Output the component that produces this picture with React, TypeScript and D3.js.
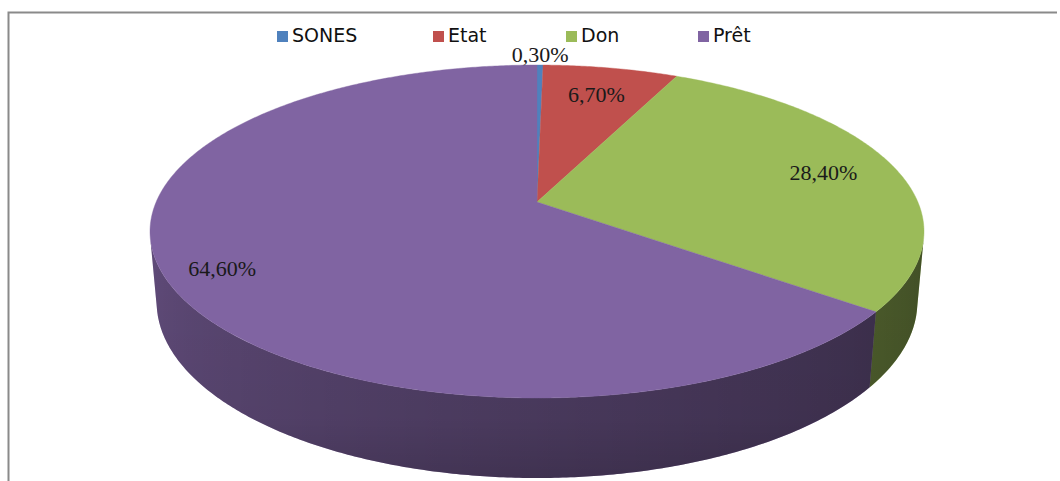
import React from 'react';
import * as d3 from 'd3';

// ---- data ----
const categories: string[] = ['SONES', 'Etat', 'Don', 'Prêt'];
const values: number[] = [0.3, 6.7, 28.4, 64.6];
const valueLabels: string[] = ['0,30%', '6,70%', '28,40%', '64,60%'];
const colors: string[] = ['#4F81BD', '#C0504D', '#9BBB59', '#8064A2'];

// ---- layout ----
const W = 1060;
const H = 481;
const CX = 537;
const CY = 202;
const FOCAL = 1947;
const DIST = 5.112;
const ALPHA = (25.05 * Math.PI) / 180;
const THICK = 0.2043;
const CAM_H = DIST * Math.sin(ALPHA);
const CAM_D = DIST * Math.cos(ALPHA);
const legendX = [277, 433, 566, 698];
const labelRadius = [1.0, 0.78, 0.8, 0.86];

function project(theta: number, r: number, y: number): [number, number] {
  const X = r * Math.sin(theta);
  const Z = -r * Math.cos(theta);
  const sa = Math.sin(ALPHA);
  const ca = Math.cos(ALPHA);
  const depth = -(y - CAM_H) * sa - (Z - CAM_D) * ca;
  const vu = (y - CAM_H) * ca - (Z - CAM_D) * sa;
  return [CX + (FOCAL * X) / depth, CY - (FOCAL * vu) / depth];
}

function wallPath(s: number, e: number): string {
  const n = Math.max(2, Math.ceil((e - s) / (Math.PI / 360)));
  const top: [number, number][] = [];
  const bot: [number, number][] = [];
  for (let k = 0; k <= n; k++) {
    const t = s + ((e - s) * k) / n;
    top.push(project(t, 1, 0));
    bot.push(project(t, 1, -THICK));
  }
  const pts = top.concat(bot.reverse());
  return (d3.line<[number, number]>()(pts) as string) + 'Z';
}

export default function App() {
  const pie = d3
    .pie<number>()
    .sort(null)
    .value((d) => d);
  const arcs = pie(values);

  const step = Math.PI / 360;
  const visMin = Math.acos(-1 / CAM_D);
  const visMax = 2 * Math.PI - visMin;

  const line = d3.line<[number, number]>();

  // walls (flat base colour per slice)
  const walls: { d: string; fill: string }[] = [];
  arcs.forEach((a, i) => {
    const s = Math.max(a.startAngle, visMin);
    const e = Math.min(a.endAngle, visMax);
    if (e <= s) return;
    walls.push({ d: wallPath(s, e), fill: colors[i] });
  });
  const fullWall = wallPath(visMin, visMax);

  // shading gradient along x
  const xs = d3.range(0, 21).map((k) => {
    const t = visMin + ((visMax - visMin) * k) / 20;
    const frac = k / 20;
    const f = 0.42 + 0.33 * frac;
    return { x: project(t, 1, 0)[0], op: 1 - f };
  });
  const xMin = d3.min(xs, (d) => d.x) as number;
  const xMax = d3.max(xs, (d) => d.x) as number;
  const stops = xs
    .map((d) => ({ off: (d.x - xMin) / (xMax - xMin), op: d.op }))
    .sort((a, b) => a.off - b.off);

  // top faces
  const tops = arcs.map((a, i) => {
    const pts: [number, number][] = [project(0, 0, 0)];
    const n = Math.max(2, Math.ceil((a.endAngle - a.startAngle) / step));
    for (let k = 0; k <= n; k++) {
      const t = a.startAngle + ((a.endAngle - a.startAngle) * k) / n;
      pts.push(project(t, 1, 0));
    }
    return { d: line(pts) + 'Z', fill: colors[i] };
  });

  const labelPos = arcs.map((a, i) => {
    const mid = (a.startAngle + a.endAngle) / 2;
    return project(mid, labelRadius[i], 0);
  });

  return (
    <svg
      width={W}
      height={H}
      style={{ position: 'absolute', left: 0, top: 0, background: '#fff' }}
    >
      <defs>
        <linearGradient id="wallShade" gradientUnits="userSpaceOnUse" x1={xMin} x2={xMax} y1={0} y2={0}>
          {stops.map((s, i) => (
            <stop key={i} offset={s.off} stopColor="#000" stopOpacity={s.op} />
          ))}
        </linearGradient>
        <linearGradient id="wallVert" x1={0} x2={0} y1={0} y2={1}>
          <stop offset={0} stopColor="#000" stopOpacity={0} />
          <stop offset={0.75} stopColor="#000" stopOpacity={0.04} />
          <stop offset={1} stopColor="#000" stopOpacity={0.15} />
        </linearGradient>
      </defs>
      <rect x={0} y={0} width={W} height={H} fill="#fff" />
      <path d={`M8.5,${H}V12.5H1057`} fill="none" stroke="#8a8a8a" strokeWidth={2} />
      <g>
        {walls.map((w, i) => (
          <path key={i} d={w.d} fill={w.fill} />
        ))}
        <path d={fullWall} fill="url(#wallShade)" />
        <path d={fullWall} fill="url(#wallVert)" />
      </g>
      <g>
        {tops.map((t, i) => (
          <path key={i} d={t.d} fill={t.fill} stroke={t.fill} strokeWidth={0.4} />
        ))}
      </g>
      <g fontFamily="'Liberation Serif', serif" fontSize={22} fill="#1a1a1a" textAnchor="middle">
        {labelPos.map((p, i) => (
          <text key={i} x={p[0]} y={i === 0 ? p[1] - 3 : p[1] + 8}>
            {valueLabels[i]}
          </text>
        ))}
      </g>
      <g fontFamily="'DejaVu Sans', sans-serif" fontSize={19} fill="#111">
        {categories.map((c, i) => (
          <g key={c} transform={`translate(${legendX[i]},0)`}>
            <rect x={0} y={31} width={11} height={11} fill={colors[i]} />
            <text x={15} y={42}>
              {c}
            </text>
          </g>
        ))}
      </g>
    </svg>
  );
}
